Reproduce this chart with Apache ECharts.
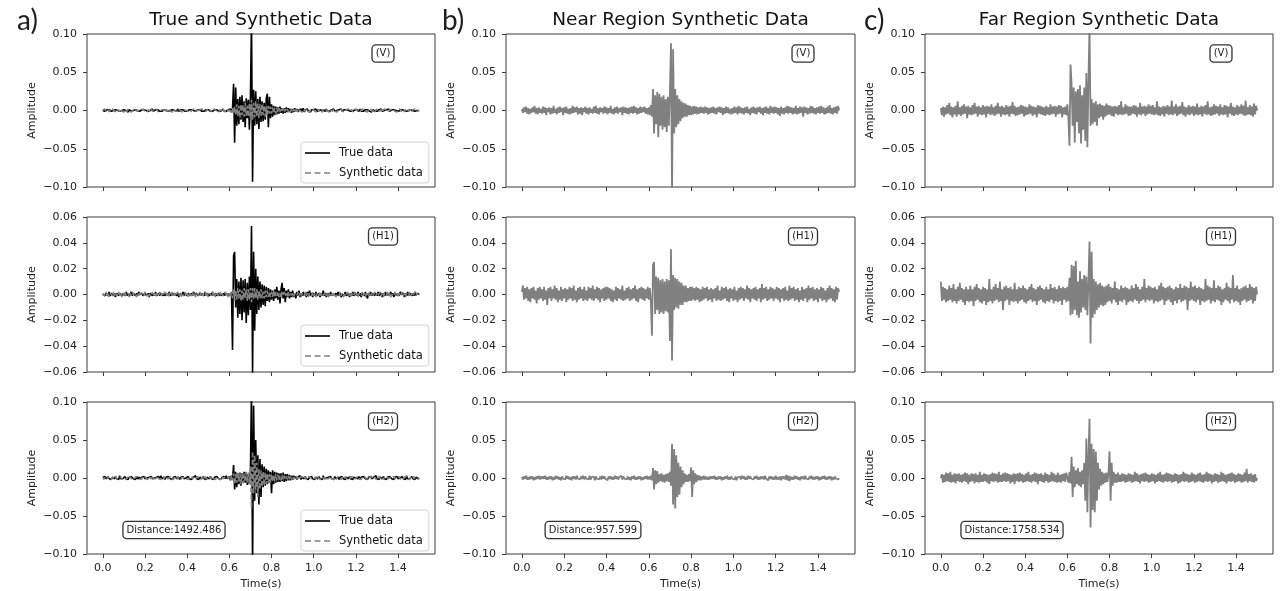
<!DOCTYPE html>
<html><head><meta charset="utf-8">
<script src="https://cdn.jsdelivr.net/npm/echarts@6/dist/echarts.min.js"></script>
<style>html,body{margin:0;padding:0;background:#fff}#chart{width:1281px;height:591px}</style>
</head><body><div id="chart"></div><script>
// ---- sample grid (time axis) ----
const DT = 0.005;            // seconds per sample
const NSAMP = 301;           // 0.0 .. 1.5 s
const AMP_UNIT = 0.001;      // amplitude arrays below are in units of 0.001

// ---- tick labels / texts ----
const xTicks = [0, 0.2, 0.4, 0.6, 0.8, 1.0, 1.2, 1.4];
const yTicksWide = [-0.1, -0.05, 0, 0.05, 0.1];
const yTicksH1 = [-0.06, -0.04, -0.02, 0, 0.02, 0.04, 0.06];
const columnTitles = ['True and Synthetic Data', 'Near Region Synthetic Data', 'Far Region Synthetic Data'];
const panelLetters = ['a)', 'b)', 'c)'];
const componentLabels = ['(V)', '(H1)', '(H2)'];
const distanceLabels = ['Distance:1492.486', 'Distance:957.599', 'Distance:1758.534'];
const legendNames = ['True data', 'Synthetic data'];

// ---- a) True and Synthetic Data ----
const aVTrue = [
0,1,-1,0,1,-1,1,0,-1,1,0,-1,1,-1,0,1,-1,1,0,-1,
1,-1,0,1,-2,1,0,-1,1,0,-1,1,-1,0,1,-1,0,1,-1,1,
-1,0,1,-1,1,0,-1,2,-1,0,1,-1,1,0,-1,1,-1,0,1,-1,
0,1,-1,1,0,-1,1,-1,0,1,-1,2,-1,0,1,-1,1,0,-1,1,
-1,0,1,-1,1,-1,0,1,-1,0,1,-1,1,0,-1,1,-1,0,1,-1,
1,0,-1,1,-1,0,1,-1,1,0,-1,1,-1,0,2,-1,1,-1,0,1,
-1,2,-2,3,35,-42,30,-20,15,-18,18,-12,20,-15,12,-22,16,-10,14,-25,
20,120,-93,27,-20,25,-18,15,-24,18,-15,12,-14,10,-12,16,22,-22,18,-10,
8,-8,6,-6,5,-5,4,-4,5,-3,3,-4,3,-3,4,-2,3,-2,2,-3,
2,-2,3,-1,2,-2,1,-1,2,-1,3,-2,1,-1,2,-1,1,-2,1,-1,
1,-1,2,-1,1,0,-1,1,-2,1,0,-1,2,-1,1,-1,0,1,-1,2,
-1,1,0,-1,1,-1,2,-1,0,1,-1,1,-1,0,2,-1,1,-1,0,1,
-1,1,0,-1,2,-1,1,-1,0,1,-1,1,0,-1,1,-2,1,0,-1,1,
-1,0,1,-1,2,-1,1,0,-1,1,-1,2,-1,0,1,-1,1,-1,0,1,
-1,1,0,-1,1,-1,0,1,-1,1,0,-1,1,-1,0,1,-1,1,0,-1,
0];
const aVSyn = [
1,-1,2,-1,0,1,-2,1,-1,2,0,-1,1,-2,1,0,-1,2,-1,1,
-2,1,0,-1,2,-1,1,-2,0,1,-1,2,-1,1,0,-2,1,-1,2,0,
-1,1,-2,1,0,-1,2,-1,1,-1,0,2,-1,1,-2,0,1,-1,1,-2,
1,0,-1,2,-1,1,-2,1,0,-1,1,-1,2,0,-1,1,-2,1,-1,0,
2,-1,1,-2,0,1,-1,2,-1,0,1,-2,1,-1,2,0,-1,1,-1,2,
-1,0,1,-2,1,-1,2,0,-1,1,-2,1,0,-1,2,-1,1,-2,1,0,
-1,2,-3,3,-4,5,-6,8,-7,6,-9,8,-6,7,-8,10,-7,6,-8,9,
-10,14,-12,10,-9,12,-8,9,-10,8,-7,9,-6,7,-8,6,-5,6,-4,5,
-4,4,-3,3,-4,3,-2,3,-3,2,-2,3,-2,2,-1,2,-2,1,-2,2,
-1,2,-2,1,0,-1,2,-1,1,-2,1,0,-1,2,-1,1,-2,1,-1,2,
0,-1,1,-2,2,-1,0,1,-2,1,-1,2,0,-1,1,-2,1,0,-1,2,
-1,1,-2,0,1,-1,2,-1,1,-2,0,1,-1,2,-1,0,1,-2,1,-1,
2,0,-1,1,-2,1,-1,2,0,-1,1,-2,1,-1,2,-1,0,1,-2,1,
-1,2,-1,0,1,-2,1,-1,2,-1,1,0,-2,1,-1,2,0,-1,1,-2,
1,-1,2,-1,0,1,-2,1,-1,2,-1,0,1,-2,1,-1,2,0,-1,1,
0];
const aH1True = [
0,1,-1,1,0,-1,2,-1,1,0,-1,1,-2,1,0,-1,1,2,-1,1,
0,-1,2,-1,1,-1,0,2,-1,1,0,-1,1,-1,2,0,-1,1,-1,0,
1,-1,0,1,-2,1,0,-1,1,-1,2,-1,0,1,-1,1,0,-1,1,-1,
0,1,-1,2,-1,0,1,-1,1,0,-1,1,-2,1,0,-1,2,-1,1,0,
-1,1,0,-1,1,-1,2,0,-1,1,-1,0,1,-1,1,0,-1,2,-1,1,
0,-1,1,-1,2,-1,0,1,-1,1,0,-1,1,-1,0,1,-1,1,0,-1,
1,-1,2,-43,30,33,-10,12,-18,10,-15,13,-20,11,-14,12,-22,9,-16,14,
-12,53,-62,33,-28,20,-15,14,-12,10,-10,8,-8,7,-9,6,-5,5,-6,4,
-4,3,-5,4,-3,6,-4,3,-7,4,9,-3,5,-6,3,-2,4,-3,2,-2,
3,-2,1,-3,2,-1,3,-2,1,-1,2,-1,1,-2,2,-1,3,-1,1,-2,
1,-1,2,-1,0,1,-2,1,-1,3,-1,1,-2,1,0,-1,2,-1,1,-1,
0,1,-1,2,-1,1,-2,0,1,-1,2,-1,0,1,-2,1,-1,2,-1,0,
1,-1,2,-1,1,-2,1,0,-1,2,-1,-3,1,-1,2,-1,1,0,-1,1,
-1,2,-1,0,1,-2,1,-1,2,-1,1,-1,0,2,-1,1,-2,1,0,-1,
1,-1,2,0,-1,1,-2,1,-1,2,-1,1,0,-1,1,-1,2,-1,1,0,
0];
const aH1Syn = [
1,-1,0,2,-1,1,-2,1,0,-1,2,-1,1,-1,0,2,-1,1,-2,1,
-1,2,-1,0,1,-2,1,-1,2,0,-1,1,-2,1,-1,2,0,-1,1,-1,
2,-1,1,-2,0,1,-1,2,-1,1,-2,1,0,-1,2,-1,1,-1,0,2,
-1,1,-2,1,0,-1,2,-1,1,-1,0,2,-1,1,-2,0,1,-1,2,-1,
1,-2,0,1,-1,2,-1,1,-2,1,0,-1,2,-1,1,-1,0,2,-1,1,
-2,1,0,-1,2,-1,1,-2,1,0,-1,2,-1,1,-1,0,2,-1,1,-2,
1,-2,2,-3,4,-5,3,-4,5,-3,4,-5,3,-4,5,-3,4,-5,4,-4,
5,-6,5,-4,5,-3,4,-4,3,-3,4,-3,2,-3,3,-2,3,-2,2,-2,
2,-2,3,-2,2,-1,2,-2,1,-2,2,-1,2,-1,1,-2,2,-1,1,-1,
1,-2,1,0,-1,2,-1,1,-2,1,0,-1,2,-1,1,-2,1,0,-1,2,
-1,1,-2,1,0,-1,2,-1,1,-1,0,2,-1,1,-2,1,0,-1,2,-1,
1,-2,0,1,-1,2,-1,1,-2,0,1,-1,2,-1,1,-2,1,0,-1,2,
-1,1,-2,1,0,-1,2,-1,1,-2,1,0,-1,2,-1,1,-1,0,2,-1,
1,-1,0,2,-1,1,-2,1,0,-1,2,-1,1,-2,0,1,-1,2,-1,1,
-2,1,0,-1,2,-1,1,-2,1,0,-1,2,-1,1,-1,0,2,-1,1,-1,
0];
const aH2True = [
1,-1,2,-1,0,2,-1,1,-2,1,0,-1,2,-1,1,-2,3,-1,1,-1,
0,2,-1,1,-2,1,-1,2,0,-1,1,-2,2,-1,0,1,-2,1,-1,2,
-1,1,0,-2,1,-1,2,-1,1,0,-2,1,-1,2,-1,3,-1,0,1,-2,
1,-1,2,0,-1,1,-2,1,-1,2,-1,0,1,-2,1,-1,2,-1,1,0,
-1,2,-1,1,-2,0,1,-1,3,-1,1,-2,1,0,-1,2,-1,1,-2,1,
0,-1,2,-1,1,-2,1,-1,2,0,-1,1,-2,1,-1,2,-1,3,-1,1,
2,-3,3,-2,17,-15,8,-12,6,-8,7,-10,6,-5,8,-6,7,-9,5,-8,
10,120,-120,95,-30,50,-20,30,-35,25,-25,18,-12,15,-10,12,-8,10,-6,8,
-20,10,-8,8,-6,7,-5,6,-5,6,-4,7,-5,5,-4,5,-3,4,-3,3,
-2,3,-1,2,-2,1,-1,3,-2,1,0,-1,2,-1,1,-2,1,-1,2,-1,
1,-2,1,0,-1,2,-1,1,-2,3,-1,1,0,-2,1,-1,2,-1,1,-2,
2,-1,0,1,-2,1,-1,2,-1,1,-2,1,0,-1,2,-1,1,-2,1,-1,
0,1,-1,2,-2,1,-1,2,0,-1,1,-2,1,-1,2,-1,0,1,-1,3,
-1,1,-2,1,0,-1,2,-1,1,-2,1,-1,2,0,-1,1,-2,1,-1,2,
-1,1,0,-1,2,-1,1,-2,3,-1,1,-1,0,2,-1,1,-2,1,0,-1,
0];
const aH2Syn = [
1,-2,1,0,-1,2,-1,1,-2,1,0,-1,2,-1,1,-1,0,2,-1,1,
-1,1,-2,1,0,-1,2,-1,1,-2,0,1,-1,2,-1,1,-2,0,1,-1,
2,-1,1,-2,1,0,-1,2,-1,1,-1,0,2,-1,1,-2,1,0,-1,2,
-1,1,-1,0,2,-1,1,-2,1,0,-1,2,-1,1,-2,1,-1,0,2,-1,
1,-2,1,0,-1,2,-1,1,-1,0,2,-1,1,-2,1,0,-1,2,-1,1,
-2,1,0,-1,2,-1,1,-2,1,0,-1,1,-2,2,-1,0,1,-1,2,-1,
2,-2,3,-3,6,-8,5,-6,7,-5,6,-8,5,-7,6,-5,8,-6,7,-8,
15,-40,35,-20,30,-15,20,-25,12,-15,10,-12,8,-10,7,-8,6,-7,5,-6,
5,-5,4,-4,5,-3,4,-3,3,-3,4,-2,3,-2,2,-2,3,-2,2,-2,
1,-2,2,-1,0,1,-2,1,-1,2,-1,0,1,-2,1,-1,2,0,-1,1,
-2,1,0,-1,2,-1,1,-2,1,0,-1,2,-1,1,-1,0,2,-1,1,-2,
1,0,-1,2,-1,1,-2,1,0,-1,2,-1,1,-2,0,1,-1,2,-1,1,
-1,2,0,-1,1,-2,1,-1,2,0,-1,1,-2,1,-1,2,-1,0,1,-2,
1,-1,2,-1,0,1,-2,1,-1,2,-1,1,0,-2,1,-1,2,-1,1,0,
-1,2,-1,1,-2,0,1,-1,2,-1,1,-2,1,0,-1,2,-1,1,-1,0,
0];

// ---- b) Near Region Synthetic Data ----
const bV = [
2,-3,4,-2,5,-4,3,-5,2,-3,4,-2,6,-4,3,-5,4,-3,2,-4,
5,-3,4,-6,3,-2,4,-5,3,-4,6,-3,2,-5,4,-3,5,-2,3,-6,
4,-3,5,-4,2,-5,3,-4,6,-3,4,-2,5,-5,3,-4,4,-6,3,-2,
5,-4,3,-5,4,-3,2,-4,5,-3,6,-4,3,-5,4,-2,3,-4,5,-3,
4,-5,3,-3,6,-4,2,-5,4,-3,5,-4,3,-2,4,-6,5,-3,4,-4,
3,-5,4,-3,5,-4,6,-3,4,-5,3,-4,5,-3,4,-2,5,-4,3,-5,
4,-6,7,-8,28,-30,20,-18,24,-35,22,-20,18,-25,20,-22,15,-28,18,-20,
25,88,-110,80,-30,28,-22,20,-18,15,-14,12,-10,10,-8,9,-8,7,-6,6,
-6,5,-5,6,-4,5,-5,4,-4,5,-3,4,-4,5,-3,4,-5,3,-4,4,
-3,5,-4,3,-5,4,-2,5,-3,4,-6,3,-4,5,-3,4,-4,2,-5,3,
-4,5,-3,4,-5,6,-3,4,-4,3,-5,4,-3,5,-4,2,-6,4,-3,5,
-4,3,-5,4,-2,5,-4,3,-6,4,-3,5,-4,3,-5,6,-3,4,-4,5,
-3,4,-5,3,-7,5,-4,3,-5,4,-3,6,-4,5,-3,4,-5,3,-4,6,
-5,3,-4,5,-3,4,-8,5,-3,4,-5,3,-4,6,-3,5,-4,3,-5,4,
-3,5,-4,6,-3,4,-5,3,-4,5,-3,7,-4,3,-5,4,-3,5,-4,6,
0];
const bH1 = [
2,7,-4,5,-3,6,-5,4,-6,5,-3,6,-4,3,-7,5,-4,6,-3,4,
-5,6,-4,3,-8,5,-3,6,-5,4,-3,7,-4,5,-6,3,-4,6,-5,4,
-3,5,-6,4,-4,6,-3,5,-5,7,-4,3,-6,5,-4,6,-3,4,-5,6,
-4,3,-5,6,-3,5,-4,7,-5,4,-3,6,-4,5,-6,4,-3,5,-5,6,
-4,6,-3,5,-5,4,-6,3,-4,6,-5,5,-3,4,-4,7,-5,3,-4,5,
-3,6,-5,4,-4,5,-3,7,-5,4,-6,5,-3,6,-4,5,-5,4,-3,6,
-4,5,-6,-32,23,25,-15,14,-12,13,-15,11,-14,12,-15,10,-13,12,-14,11,
-36,35,-51,15,-12,13,-10,12,-11,10,-8,9,-8,7,-6,7,-6,5,-5,6,
-5,6,-4,5,-5,6,-4,5,-6,4,-5,6,-4,5,-3,6,-5,4,-4,5,
-6,4,-3,5,-5,7,-4,3,-5,6,-4,5,-3,6,-5,4,-6,5,-3,4,
-5,6,-4,3,-6,5,-4,6,-3,5,-5,4,-3,7,-4,5,-6,4,-3,5,
-4,6,-5,4,-3,5,-6,8,-4,5,-3,6,-5,4,-4,6,-3,5,-5,4,
-3,6,-4,5,-6,4,-3,5,-5,6,-4,3,-5,7,-4,5,-3,6,-5,4,
-4,5,-6,3,-4,6,-5,4,-3,5,-6,7,-4,5,-3,6,-5,4,-4,5,
-6,4,-3,6,-5,5,-4,3,-6,5,-4,7,-3,5,-5,4,-6,6,-4,5,
2];
const bH2 = [
1,-2,2,-1,3,-2,1,-2,2,-1,2,-3,1,-2,2,-1,3,-2,2,-1,
2,-1,3,-2,1,-2,2,-1,2,-3,1,-2,3,-1,2,-2,1,-3,2,-1,
1,-2,3,-1,2,-2,1,-3,2,-1,2,-2,3,-1,1,-2,2,-1,3,-2,
2,-1,1,-2,3,-2,1,-1,2,-3,2,-1,1,-2,2,-2,3,-1,2,-1,
1,-3,2,-1,2,-2,1,-2,3,-1,2,-2,1,-1,3,-2,2,-1,1,-2,
2,-2,1,-3,2,-1,3,-2,1,-2,2,-1,2,-3,1,-2,2,-1,3,-2,
2,-2,3,-3,13,-15,10,-8,9,-6,5,-4,6,-5,4,-6,5,-4,6,-5,
8,-10,45,-35,38,-40,30,-25,20,-22,15,-12,10,-8,6,-5,4,-5,5,-4,
14,-25,10,-8,6,-5,4,-3,3,-3,2,-2,3,-2,2,-2,1,-2,2,-1,
2,-1,3,-2,1,-2,2,-1,2,-3,1,-2,2,-1,3,-2,1,-2,2,-1,
1,-2,2,-3,1,-1,2,-2,3,-1,2,-2,1,-2,3,-1,2,-1,1,-2,
2,-1,3,-2,1,-2,2,-1,2,-2,3,-1,1,-3,2,-1,2,-2,1,-2,
3,-2,1,-2,2,-3,2,-1,2,-2,4,-3,3,-4,2,-2,1,-2,3,-1,
2,-2,1,-3,2,-1,2,-2,3,-1,1,-2,2,-1,3,-2,1,-2,2,-1,
2,-3,1,-2,2,-1,3,-2,1,-2,2,-1,2,-3,1,-2,2,-1,1,-2,
0];

// ---- c) Far Region Synthetic Data ----
const cV = [
3,-6,5,-8,4,-5,7,-4,10,-6,5,-9,4,-5,6,-8,12,-5,4,-7,
6,-5,8,-4,5,-10,6,-5,4,-6,7,-5,10,-4,5,-8,6,-5,4,-6,
7,-5,5,-9,6,-4,5,-6,8,-5,4,-7,6,-5,10,-4,5,-8,6,-5,
4,-6,7,-5,5,-8,6,-4,11,-5,6,-7,4,-6,5,-5,7,-4,6,-8,
5,-6,4,-5,8,-4,6,-7,5,-5,4,-9,7,-4,6,-5,5,-6,4,-7,
6,-5,4,-6,8,-5,5,-4,6,-8,5,-5,7,-4,6,-9,4,-5,5,-6,
8,-10,-46,60,35,-20,30,-42,25,-15,28,-30,33,-43,20,-25,30,-40,49,-48,
40,110,-20,15,-18,10,-15,12,-20,8,-10,9,-8,7,-12,6,-8,9,-6,7,
-5,6,-7,5,-8,6,-4,5,-6,7,-5,12,-6,4,-5,8,-4,6,-7,5,
-6,5,-4,7,-5,6,-8,4,-5,10,-6,5,-4,6,-7,5,-5,8,-4,6,
-5,7,-6,4,-5,12,-6,5,-7,4,-5,6,-8,5,-4,7,-6,5,-5,13,
-6,5,-4,8,-7,5,-5,6,-4,11,-6,5,-8,4,-5,7,-6,5,-4,6,
-7,5,-5,9,-6,4,-5,6,-8,5,-4,7,-6,12,-5,4,-7,5,-6,8,
-5,6,-4,5,-7,8,-5,4,-6,7,-5,6,-9,5,-4,10,-6,5,-7,4,
-5,7,-6,5,-4,8,-5,6,-7,13,-6,4,-5,7,-6,5,-8,9,-5,6,
0];
const cH1 = [
10,-5,6,-4,5,-6,4,-5,7,-4,5,-6,8,-5,4,-7,6,-5,9,-4,
5,-6,4,-8,6,-5,4,-6,7,-5,4,-9,6,-5,8,-4,5,-6,4,-7,
6,-5,5,-8,4,-6,12,-5,4,-7,6,-5,8,-4,5,-6,10,-5,4,-12,
6,-5,7,-4,5,-8,6,-5,4,-6,9,-5,4,-7,6,-5,5,-4,7,-6,
5,-7,4,-5,6,-4,8,-6,5,-5,4,-8,6,-5,7,-4,5,-6,4,-7,
6,-5,4,-6,8,-4,5,-7,6,-5,4,-6,7,-5,5,-8,6,-4,5,-6,
6,-5,13,-16,23,-15,22,-12,26,-16,10,-18,18,-14,12,-10,15,-12,14,-16,
10,41,-38,33,-18,12,-15,10,-12,8,-10,9,-8,7,-9,6,-8,7,-6,8,
-5,6,-7,5,-4,10,-6,5,-8,4,-5,7,-6,5,-4,6,-8,5,-6,4,
-5,7,-6,5,-4,8,-5,6,-7,4,-5,6,-4,12,-6,5,-4,7,-5,6,
-4,5,-7,6,-5,4,-6,7,-5,9,-4,6,-8,5,-5,6,-4,7,-6,5,
-8,4,-5,6,-7,5,-4,8,-6,5,-5,7,-4,6,-12,5,-5,10,-4,6,
-5,7,-6,5,-4,6,-8,5,-5,4,-6,12,-5,7,-4,6,-7,5,-5,11,
-6,5,-4,7,-5,6,-8,4,-6,5,-4,9,-5,6,-7,5,-4,15,-6,5,
-5,7,-6,4,-8,5,-5,6,-4,7,-6,5,-5,8,-4,6,-7,5,-5,6,
0];
const cH2 = [
0,5,-6,4,-5,7,-4,6,-5,8,-6,4,-5,6,-7,5,-4,6,-5,4,
-6,5,-4,7,-5,6,-8,4,-5,6,-4,5,-7,6,-5,4,-6,8,-5,4,
-5,6,-4,5,-6,4,-8,5,-4,7,-5,6,-4,5,-6,8,-5,4,-5,6,
-4,7,-5,6,-4,5,-7,4,-5,6,-8,5,-4,6,-5,7,-4,5,-6,4,
-5,6,-4,8,-5,4,-6,5,-4,7,-5,6,-8,5,-4,6,-5,4,-6,7,
-4,5,-6,4,-5,8,-4,6,-5,4,-6,7,-5,4,-6,5,-4,6,-5,7,
5,-6,8,-7,28,-25,15,-12,10,-8,13,-10,8,-12,10,-8,20,-30,52,-45,
30,78,-65,45,-42,38,-45,35,-30,20,-15,12,-10,8,-8,6,-6,7,-5,6,
35,-30,20,-10,8,-6,5,-6,7,-5,4,-5,6,-4,5,-6,4,-5,6,-4,
5,-6,4,-5,8,-4,6,-5,4,-7,5,-4,6,-5,7,-4,5,-6,4,-5,
6,-4,5,-7,4,-5,6,-4,8,-5,4,-6,5,-4,7,-5,6,-4,5,-6,
4,-5,6,-4,5,-7,4,-6,5,-4,8,-5,6,-4,5,-6,4,-5,7,-4,
5,-6,4,-5,6,-4,7,-5,4,-6,5,-4,8,-5,6,-4,5,-7,4,-5,
6,-4,5,-6,4,-5,8,-4,6,-5,4,-7,5,-4,6,-5,7,-4,5,-6,
4,-5,6,-4,5,-6,4,-5,7,-4,12,-6,5,-4,6,-5,4,-6,5,-4,
0];

// ---------------------------------------------------------------
const time = Array.from({length: NSAMP}, (_, i) => +(i * DT).toFixed(3));
const toXY = arr => time.map((t, i) => [t, arr[i] * AMP_UNIT]);

const FONT = '"DejaVu Sans", sans-serif';
const FRAME = '#3c3c3c';
const TEXT = '#222';
const LW = 1.6;
const LW_GRAY = 1.8;
const cols = [{left: 87, width: 348}, {left: 506, width: 349}, {left: 925, width: 348}];
const rows = [{top: 34, height: 153}, {top: 217, height: 155}, {top: 402, height: 154}];
const rowTicks = [yTicksWide, yTicksH1, yTicksWide];
const fmtY = v => (v < 0 ? '\u2212' : '') + Math.abs(v).toFixed(2);

// legend icons: a solid stroke and a three-dash stroke
const ICON_SOLID = 'path://M0,0H25V1.6H0Z';
const ICON_DASHED = 'path://M0,0H6V1.6H0Z M9.5,0H15.5V1.6H9.5Z M19,0H25V1.6H19Z';

const grids = [], xAxes = [], yAxes = [], series = [], legends = [], graphics = [];

const panels = [
  [[aVTrue, aVSyn], [aH1True, aH1Syn], [aH2True, aH2Syn]],
  [[bV], [bH1], [bH2]],
  [[cV], [cH1], [cH2]]
];

for (let c = 0; c < 3; c++) {
  for (let r = 0; r < 3; r++) {
    const g = grids.length;
    const ticks = rowTicks[r];
    grids.push({left: cols[c].left, top: rows[r].top, width: cols[c].width, height: rows[r].height,
      show: true, borderColor: FRAME, borderWidth: 1, backgroundColor: 'transparent', containLabel: false});
    xAxes.push({type: 'value', gridIndex: g, min: -0.075, max: 1.575, position: 'bottom',
      axisLine: {show: false, onZero: false},
      axisTick: {show: true, customValues: xTicks, length: 4, inside: false, lineStyle: {color: FRAME, width: 1}},
      axisLabel: {show: r === 2, customValues: xTicks, formatter: v => v.toFixed(1), fontSize: 11, color: TEXT, fontFamily: FONT, margin: 9},
      splitLine: {show: false},
      name: r === 2 ? 'Time(s)' : '', nameLocation: 'middle', nameGap: 25,
      nameTextStyle: {fontSize: 11, color: TEXT, fontFamily: FONT}});
    yAxes.push({type: 'value', gridIndex: g, min: ticks[0], max: ticks[ticks.length - 1], position: 'left',
      axisLine: {show: false, onZero: false},
      axisTick: {show: true, customValues: ticks, length: 4, inside: false, lineStyle: {color: FRAME, width: 1}},
      axisLabel: {customValues: ticks, formatter: fmtY, fontSize: 11, color: TEXT, fontFamily: FONT, margin: 10},
      splitLine: {show: false},
      name: 'Amplitude', nameLocation: 'middle', nameGap: 49,
      nameTextStyle: {fontSize: 11, color: TEXT, fontFamily: FONT}});

    const traces = panels[c][r];
    if (c === 0) {
      series.push({type: 'line', name: legendNames[0], xAxisIndex: g, yAxisIndex: g, data: toXY(traces[0]),
        symbol: 'none', showSymbol: false, clip: true, silent: true, z: 2,
        lineStyle: {color: '#000', width: LW}, itemStyle: {color: '#000'}});
      series.push({type: 'line', name: legendNames[1], xAxisIndex: g, yAxisIndex: g, data: toXY(traces[1]),
        symbol: 'none', showSymbol: false, clip: true, silent: true, z: 3,
        lineStyle: {color: '#808080', width: LW, type: [5, 2.2]}, itemStyle: {color: '#808080'}});
      legends.push({show: true, orient: 'vertical', left: 301, top: rows[r].top + 108,
        data: [{name: legendNames[0], icon: ICON_SOLID}, {name: legendNames[1], icon: ICON_DASHED}],
        symbolKeepAspect: true, selectedMode: false, itemWidth: 25, itemHeight: 10, itemGap: 8,
        padding: [5, 6, 4, 4], backgroundColor: 'rgba(255,255,255,0.85)', borderColor: '#d4d4d4', borderWidth: 1, borderRadius: 3,
        textStyle: {fontSize: 11.5, color: '#111', fontFamily: FONT, padding: [0, 0, 0, 4]}});
    } else {
      series.push({type: 'line', name: panelLetters[c] + componentLabels[r], xAxisIndex: g, yAxisIndex: g, data: toXY(traces[0]),
        symbol: 'none', showSymbol: false, clip: true, silent: true, z: 2,
        lineStyle: {color: '#808080', width: LW_GRAY}, itemStyle: {color: '#808080'}});
    }

    graphics.push({type: 'text', x: cols[c].left + cols[c].width - 52, y: rows[r].top + 19.5, z: 100,
      style: {text: componentLabels[r], font: '10px ' + FONT, fill: TEXT, align: 'center', verticalAlign: 'middle',
        backgroundColor: '#fff', borderColor: '#333', borderWidth: 1.3, borderRadius: 3, padding: [3, 3]}});
    if (r === 2) {
      graphics.push({type: 'text', x: cols[c].left + 87, y: rows[r].top + 128, z: 100,
        style: {text: distanceLabels[c], font: '10px ' + FONT, fill: TEXT, align: 'center', verticalAlign: 'middle',
          backgroundColor: '#fff', borderColor: '#333', borderWidth: 1.3, borderRadius: 3, padding: [3, 3]}});
    }
  }
  graphics.push({type: 'text', x: cols[c].left + cols[c].width / 2, y: 20, z: 100,
    style: {text: columnTitles[c], font: '18.5px ' + FONT, fill: '#111', align: 'center', verticalAlign: 'middle'}});
}
const letterX = [17, 442, 864];
for (let c = 0; c < 3; c++) {
  graphics.push({type: 'text', x: letterX[c], y: 21, z: 100,
    style: {text: panelLetters[c], font: '28px Lato, "Open Sans", sans-serif', fill: '#1e1e1e', align: 'left', verticalAlign: 'middle'}});
}

const chart = echarts.init(document.getElementById('chart'), null, {renderer: 'canvas'});
chart.setOption({
  animation: false,
  backgroundColor: '#fff',
  grid: grids, xAxis: xAxes, yAxis: yAxes, series: series, legend: legends, graphic: graphics
});
</script></body></html>
